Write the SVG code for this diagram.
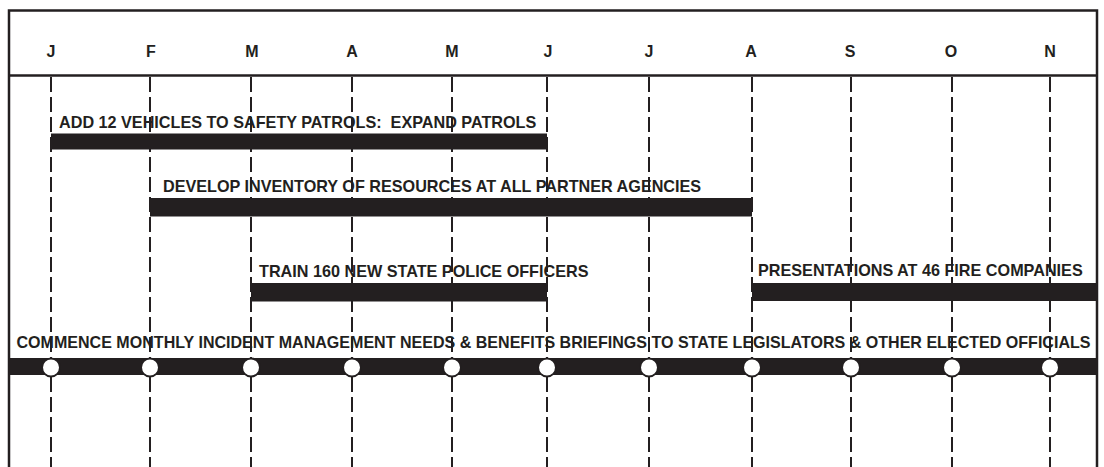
<svg xmlns="http://www.w3.org/2000/svg" width="1104" height="467" viewBox="0 0 1104 467">
<style>
.frame{fill:none;stroke:#231f20;stroke-width:2.5}
.grid line{stroke:#231f20;stroke-width:2;stroke-dasharray:15 5}
.bar{fill:#231f20}
.dot{fill:#ffffff;stroke:#231f20;stroke-width:2}
.mon{font-family:"Liberation Sans",Arial,sans-serif;font-weight:bold;font-size:16px;fill:#231f20;text-anchor:middle}
.lbl{font-family:"Liberation Sans",Arial,sans-serif;font-weight:bold;font-size:16.2px;fill:#231f20}
</style>
<rect width="1104" height="467" fill="#ffffff"/>
<g id="frame">
<path class="frame" d="M9,467 V10.5 H1097 V467"/>
<line class="frame" x1="9" y1="75.5" x2="1097" y2="75.5"/>
</g>
<g id="months">
<text class="mon" x="51" y="57">J</text>
<text class="mon" x="151" y="57">F</text>
<text class="mon" x="252" y="57">M</text>
<text class="mon" x="352" y="57">A</text>
<text class="mon" x="452" y="57">M</text>
<text class="mon" x="548" y="57">J</text>
<text class="mon" x="649" y="57">J</text>
<text class="mon" x="751" y="57">A</text>
<text class="mon" x="850" y="57">S</text>
<text class="mon" x="951" y="57">O</text>
<text class="mon" x="1050" y="57">N</text>
</g>
<g id="connectors" class="grid">
<line x1="51" y1="77" x2="51" y2="467"/>
<line x1="150" y1="77" x2="150" y2="467"/>
<line x1="251" y1="77" x2="251" y2="467"/>
<line x1="352" y1="77" x2="352" y2="467"/>
<line x1="452" y1="77" x2="452" y2="467"/>
<line x1="547" y1="77" x2="547" y2="467"/>
<line x1="649" y1="77" x2="649" y2="467"/>
<line x1="752" y1="77" x2="752" y2="467"/>
<line x1="851" y1="77" x2="851" y2="467"/>
<line x1="952" y1="77" x2="952" y2="467"/>
<line x1="1050" y1="77" x2="1050" y2="467"/>
</g>
<g id="task1">
<text class="lbl" x="59" y="128" xml:space="preserve">ADD 12 VEHICLES TO SAFETY PATROLS:  EXPAND PATROLS</text>
<rect class="bar" x="51" y="133.5" width="496" height="16"/>
</g>
<g id="task2">
<text class="lbl" x="163" y="192">DEVELOP INVENTORY OF RESOURCES AT ALL PARTNER AGENCIES</text>
<rect class="bar" x="150" y="198" width="602" height="18.5"/>
</g>
<g id="task3">
<text class="lbl" x="259" y="277">TRAIN 160 NEW STATE POLICE OFFICERS</text>
<rect class="bar" x="251" y="283" width="296" height="18.5"/>
</g>
<g id="task4">
<text class="lbl" x="758" y="276">PRESENTATIONS AT 46 FIRE COMPANIES</text>
<rect class="bar" x="752" y="283" width="345" height="18"/>
</g>
<g id="task5">
<text class="lbl" x="16.5" y="348" textLength="1074" lengthAdjust="spacingAndGlyphs">COMMENCE MONTHLY INCIDENT MANAGEMENT NEEDS &amp; BENEFITS BRIEFINGS TO STATE LEGISLATORS &amp; OTHER ELECTED OFFICIALS</text>
<rect class="bar" x="9" y="358" width="1088" height="17"/>
<circle class="dot" cx="51" cy="367.5" r="9"/>
<circle class="dot" cx="150" cy="367.5" r="9"/>
<circle class="dot" cx="251" cy="367.5" r="9"/>
<circle class="dot" cx="352" cy="367.5" r="9"/>
<circle class="dot" cx="452" cy="367.5" r="9"/>
<circle class="dot" cx="547" cy="367.5" r="9"/>
<circle class="dot" cx="649" cy="367.5" r="9"/>
<circle class="dot" cx="752" cy="367.5" r="9"/>
<circle class="dot" cx="851" cy="367.5" r="9"/>
<circle class="dot" cx="952" cy="367.5" r="9"/>
<circle class="dot" cx="1050" cy="367.5" r="9"/>
</g>
</svg>
